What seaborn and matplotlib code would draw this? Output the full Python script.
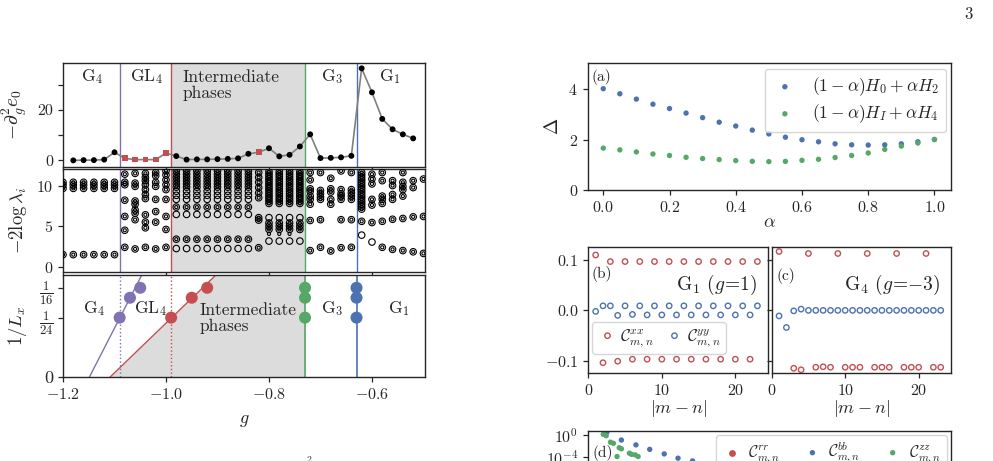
import numpy as np
import pandas as pd
import seaborn as sns
import matplotlib.pyplot as plt

# ---------------- data: left column ----------------
g_e0 = [-1.18, -1.16, -1.14, -1.12, -1.10, -1.08, -1.06, -1.04, -1.02, -1.00,
        -0.98, -0.96, -0.94, -0.92, -0.90, -0.88, -0.86, -0.84, -0.82, -0.80,
        -0.78, -0.76, -0.74, -0.72, -0.70, -0.68, -0.66, -0.64, -0.62, -0.60,
        -0.58, -0.56, -0.54, -0.52]
d2e0 = [0.0, 0.1, 0.1, 0.3, 3.2, 0.8, 0.3, 0.3, 0.3, 2.9,
        1.7, 0.3, 0.4, 0.4, 0.5, 0.6, 0.8, 2.6, 3.2, 4.8,
        1.6, 2.2, 5.5, 10.3, 0.9, 1.0, 1.2, 1.8, 36.4, 26.9,
        16.4, 12.3, 10.3, 8.7]
g_square = [-1.08, -1.06, -1.04, -1.02, -1.00, -0.82]

trans_g = [-1.09, -0.99, -0.73, -0.63]
phase_names = ['G$_4$', 'GL$_4$', 'Intermediate\nphases', 'G$_3$', 'G$_1$']

# entanglement spectrum levels (-2 log lambda_i) per g
g4_levels = [1.5, 9.65, 10.05, 10.4]
inter_ring = [3.4, 7.35, 9.8, 10.2, 10.6, 11.0, 11.4, 11.8]
inter_open = [2.25, 6.45, 8.3, 8.8, 9.3]
late_ring = [4.6, 5.0, 5.4, 7.8, 8.1, 8.4, 8.7, 9.0, 9.3, 9.6, 9.9, 10.2,
             10.5, 10.8, 11.1, 11.4, 11.7]
late_open = [3.17, 6.05]
es_ring = {
    -1.20: g4_levels, -1.18: g4_levels, -1.16: g4_levels,
    -1.14: g4_levels, -1.12: g4_levels, -1.10: g4_levels,
    -1.08: [2.4, 4.5, 6.2, 8.2, 10.1, 10.4, 11.4],
    -1.06: [2.2, 5.8, 6.6, 7.0, 7.7, 8.1, 9.9, 10.3, 11.5],
    -1.04: [2.4, 4.8, 5.5, 6.4, 8.4, 8.9, 9.5, 10.1, 10.6, 11.0, 11.5],
    -1.02: [2.2, 5.5, 6.8, 8.3, 9.9, 10.4, 11.2, 11.6],
    -1.00: [2.4, 4.6, 6.2, 8.3, 9.5, 10.1, 10.7, 11.3, 11.8],
    -0.98: inter_ring, -0.96: inter_ring, -0.94: inter_ring, -0.92: inter_ring,
    -0.90: inter_ring, -0.88: inter_ring, -0.86: inter_ring, -0.84: inter_ring,
    -0.82: [2.35, 5.75, 6.05, 8.5, 9.1, 9.75, 10.4, 11.0, 11.6],
    -0.80: late_ring, -0.78: late_ring, -0.76: late_ring, -0.74: late_ring,
    -0.72: [2.0, 5.7, 7.7, 8.3, 8.7, 9.3, 9.6, 10.7, 11.6],
    -0.70: [2.4, 5.8, 8.3, 8.6, 9.0, 9.4, 11.6],
    -0.68: [1.95, 7.7, 8.3, 9.2, 9.6, 10.9],
    -0.66: [2.35, 5.8, 8.3, 8.7, 9.0, 9.5, 11.8],
    -0.64: [2.4, 5.8, 8.3, 8.7, 9.1, 9.5, 11.6],
    -0.62: [5.6, 7.1, 7.4, 7.7, 8.0, 8.3, 8.6, 8.9, 9.2, 9.5, 9.8, 10.1,
            10.4, 10.7, 11.0, 11.3, 11.6],
    -0.60: [5.45, 7.6, 8.3, 10.2, 10.8, 11.4],
    -0.58: [2.4, 5.6, 7.8, 8.3, 8.7, 10.6, 11.6],
    -0.56: [2.15, 5.85, 8.3, 8.9, 10.0, 10.6],
    -0.54: [2.0, 5.95, 8.7, 9.5, 9.9, 10.4, 11.6],
    -0.52: [1.85, 6.15, 9.75, 10.6],
    -0.50: [1.65, 6.2, 10.8],
}
es_open = {
    -0.98: inter_open, -0.96: inter_open, -0.94: inter_open, -0.92: inter_open,
    -0.90: inter_open, -0.88: inter_open, -0.86: inter_open, -0.84: inter_open,
    -0.80: late_open, -0.78: late_open, -0.76: late_open, -0.74: late_open,
    -0.62: [3.9], -0.60: [3.05],
}
es_small = {-0.80: [4.05], -0.78: [4.05], -0.76: [4.05]}

# finite size crossings
inv_Lx = [1/24, 1/18, 1/16]
cross_purple = [-1.09, -1.07, -1.05]
cross_red = [-0.99, -0.95, -0.92]
cross_green = [-0.73, -0.73, -0.73]
cross_blue = [-0.63, -0.63, -0.63]
fit_y = [0.0, 1/14]
fit_purple = [-1.149, -1.047]
fit_red = [-1.109, -0.903]

# ---------------- data: right column ----------------
alpha = [0.0, 0.05, 0.1, 0.15, 0.2, 0.25, 0.3, 0.35, 0.4, 0.45, 0.5,
         0.55, 0.6, 0.65, 0.7, 0.75, 0.8, 0.85, 0.9, 0.95, 1.0]
gap_H02 = [4.00, 3.80, 3.59, 3.39, 3.22, 3.04, 2.86, 2.68, 2.53, 2.37, 2.22,
           2.09, 1.99, 1.91, 1.83, 1.79, 1.78, 1.79, 1.83, 1.91, 2.00]
gap_HI4 = [1.66, 1.59, 1.51, 1.43, 1.37, 1.30, 1.25, 1.21, 1.17, 1.14, 1.13,
           1.14, 1.18, 1.22, 1.29, 1.37, 1.47, 1.61, 1.74, 1.86, 2.00]

dist = list(range(1, 24))
cxx_g1 = [0.110, -0.104, 0.097, -0.101, 0.097, -0.097, 0.097, -0.097, 0.097,
          -0.097, 0.097, -0.097, 0.097, -0.097, 0.097, -0.097, 0.097, -0.097,
          0.097, -0.097, 0.097, -0.097, 0.097]
cyy_g1 = [-0.002, 0.009, 0.009, -0.010, 0.009, -0.008, 0.009, -0.009, 0.009,
          -0.009, 0.009, -0.009, 0.009, -0.009, 0.009, -0.009, 0.009, -0.009,
          0.009, -0.009, 0.009, -0.009, 0.009]
dist_xx_g4 = [1, 3, 4, 5, 6, 7, 8, 9, 10, 11, 12, 13, 14, 15, 16, 17, 18, 19,
              20, 21, 22, 23]
cxx_g4 = [0.117, -0.115, -0.118, 0.113, -0.113, -0.112, -0.113, 0.113, -0.113,
          -0.113, -0.113, 0.113, -0.113, -0.113, -0.113, 0.113, -0.113, -0.113,
          -0.113, 0.113, -0.113, -0.113]
cyy_g4 = [-0.011, -0.034, -0.001, 0.0025, 0.0, 0.0, 0.0, 0.0, 0.0, 0.0, 0.0,
          0.0, 0.0, 0.0, 0.0, 0.0, 0.0, 0.0, 0.0, 0.0, 0.0, 0.0, 0.0]

dist_bb = [2.6, 4.6, 6.6, 8.5, 10.5, 12.4, 14.4]
c_bb = [2.5, 1e-1, 1.3e-2, 2e-3, 3e-4, 5e-5, 1.6e-5]
dist_zz = [2.1, 2.5, 3.1, 3.5, 4.3, 4.6, 4.0, 5.7, 6.0, 6.5, 6.9]
c_zz = [1.1, 0.6, 4e-2, 2.5e-2, 4e-3, 2.5e-3, 1e-4, 4e-4, 2.5e-4, 2e-4, 1e-4]

# ---------------- style ----------------
sns.set_theme(style='ticks', palette='deep')
plt.rcParams.update({
    'font.family': 'serif',
    'font.serif': ['cmr10'],
    'mathtext.fontset': 'cm',
    'axes.formatter.use_mathtext': True,
    'font.size': 11.5,
    'axes.edgecolor': '#262626',
    'axes.linewidth': 1.0,
    'xtick.labelsize': 11.5,
    'ytick.labelsize': 11.5,
    'axes.labelsize': 13,
    'xtick.major.size': 3.5,
    'ytick.major.size': 3.5,
    'xtick.major.width': 0.9,
    'ytick.major.width': 0.9,
    'legend.fontsize': 11.5,
})
pal = sns.color_palette('deep')
c_blue, c_green, c_red, c_purple = pal[0], pal[2], pal[3], pal[4]
line_cols = [c_purple, c_red, c_green, c_blue]
shade = '#dcdcdc'

W, H = 993, 461
fig = plt.figure(figsize=(W / 100, H / 100), dpi=100)


def px_rect(l, t, r, b):
    return [l / W, 1 - b / H, (r - l) / W, (b - t) / H]


gmin, gmax = -1.2, -0.497

# ---------- top left: -d^2 e0 ----------
ax1 = fig.add_axes(px_rect(63, 63.3, 425, 166.7))
ax1.axvspan(trans_g[1], trans_g[2], color=shade, lw=0, zorder=0)
for gc, col in zip(trans_g, line_cols):
    ax1.axvline(gc, color=col, lw=1.0, zorder=1)
df_e0 = pd.DataFrame({'g': g_e0, 'v': d2e0})
df_e0['sq'] = df_e0['g'].isin(g_square)
sns.lineplot(data=df_e0, x='g', y='v', color='gray', lw=1.2, ax=ax1,
             estimator=None, zorder=2)
sns.scatterplot(data=df_e0[~df_e0.sq], x='g', y='v', color='black', s=18,
                edgecolor='none', ax=ax1, zorder=3)
sns.scatterplot(data=df_e0[df_e0.sq], x='g', y='v', color=c_red, marker='s',
                s=17, edgecolor='none', ax=ax1, zorder=3)
ax1.set_xlim(gmin, gmax)
ax1.set_ylim(-2.5, 38.4)
ax1.set_yticks([0, 10, 20, 30], ['0', '', '20', ''])
ax1.set_xticks([-1.2, -1.0, -0.8, -0.6], [])
ax1.set_xlabel('')
ax1.set_ylabel(r'$-\partial_g^2 e_0$', fontsize=14)
ax1.yaxis.set_label_coords(-0.095, 0.5)
for x, name in zip([-1.143, -1.037, -0.968, -0.678, -0.565], phase_names):
    if '\n' in name:
        ax1.text(x, 29.6, name, ha='left', va='center', fontsize=12.5,
                 linespacing=1.05)
    else:
        ax1.text(x, 33.3, name, ha='center', va='center', fontsize=12.5)

# ---------- middle left: entanglement spectrum ----------
ax2 = fig.add_axes(px_rect(63, 169.3, 425, 271.7))
ax2.axvspan(trans_g[1], trans_g[2], color=shade, lw=0, zorder=0)
for gc, col in zip(trans_g, line_cols):
    ax2.axvline(gc, color=col, lw=1.0, zorder=1)


def to_frame(d):
    rows = [(g, v) for g, vals in d.items() for v in vals]
    return pd.DataFrame(rows, columns=['g', 'lev'])


df_ring = to_frame(es_ring)
df_open = to_frame(es_open)
df_small = to_frame(es_small)
big = pd.concat([df_ring, df_open])
small = pd.concat([df_ring, df_small])
sns.scatterplot(data=big, x='g', y='lev', s=22, facecolor='none',
                edgecolor='black', linewidth=0.8, ax=ax2, zorder=3)
sns.scatterplot(data=small, x='g', y='lev', s=5, facecolor='none',
                edgecolor='black', linewidth=0.8, ax=ax2, zorder=3)
ax2.set_xlim(gmin, gmax)
ax2.set_ylim(-0.6, 12.0)
ax2.set_yticks([0, 5, 10])
ax2.set_xticks([-1.2, -1.0, -0.8, -0.6], [])
ax2.set_xlabel('')
ax2.set_ylabel(r'$-2\log\lambda_i$', fontsize=13.5)
ax2.yaxis.set_label_coords(-0.095, 0.5)

# ---------- bottom left: 1/Lx crossings ----------
ax3 = fig.add_axes(px_rect(63, 275, 425, 377.3))
ax3.fill_betweenx(fit_y, fit_red, [trans_g[2], trans_g[2]], color=shade,
                  lw=0, zorder=0)
ax3.axvline(trans_g[0], color=c_purple, lw=1.0, ls=':', zorder=1)
ax3.axvline(trans_g[1], color=c_red, lw=1.0, ls=':', zorder=1)
ax3.axvline(trans_g[2], color=c_green, lw=1.2, zorder=1)
ax3.axvline(trans_g[3], color=c_blue, lw=1.2, zorder=1)
sns.lineplot(x=fit_purple, y=fit_y, color=c_purple, lw=1.0, estimator=None,
             ax=ax3, zorder=2)
sns.lineplot(x=fit_red, y=fit_y, color=c_red, lw=1.0, estimator=None,
             ax=ax3, zorder=2)
for xs, col in zip([cross_purple, cross_red, cross_green, cross_blue],
                   line_cols):
    sns.scatterplot(x=xs, y=inv_Lx, color=col, s=75, edgecolor='none',
                    ax=ax3, zorder=3)
ax3.set_xlim(gmin, gmax)
ax3.set_ylim(0, 1/14)
ax3.set_yticks([0, 1/24, 1/16], ['0', r'$\frac{1}{24}$', r'$\frac{1}{16}$'])
ax3.tick_params(axis='y', labelsize=13)
ax3.set_xticks([-1.2, -1.0, -0.8, -0.6])
ax3.set_xlabel(r'$g$', labelpad=8)
ax3.set_ylabel(r'$1/L_x$', fontsize=13.5)
ax3.yaxis.set_label_coords(-0.095, 0.5)
for x, name in zip([-1.139, -1.031, -0.934, -0.678, -0.548], phase_names):
    if '\n' in name:
        ax3.text(x, 0.0415, name, ha='left', va='center', fontsize=12.5,
                 linespacing=1.05)
    else:
        ax3.text(x, 0.0478, name, ha='center', va='center', fontsize=12.5)

# ---------- (a) gaps ----------
axa = fig.add_axes(px_rect(587.7, 63.3, 951, 190.3))
sns.scatterplot(x=alpha, y=gap_H02, color=c_blue, s=15, edgecolor='none',
                label=r'$(1-\alpha)H_0+\alpha H_2$', ax=axa)
sns.scatterplot(x=alpha, y=gap_HI4, color=c_green, s=15, edgecolor='none',
                label=r'$(1-\alpha)H_I+\alpha H_4$', ax=axa)
axa.set_xlim(-0.047, 1.05)
axa.set_ylim(0, 5)
axa.set_yticks([0, 2, 4])
axa.set_xticks([0, 0.2, 0.4, 0.6, 0.8, 1.0])
axa.set_xlabel(r'$\alpha$', labelpad=0)
axa.set_ylabel(r'$\Delta$', fontsize=14)
axa.yaxis.set_label_coords(-0.07, 0.5)
axa.legend(loc='upper right', handletextpad=0.8, borderaxespad=0.3,
           handlelength=1.5, fontsize=12.5, labelspacing=0.25)
axa.text(0.011, 0.955, '(a)', transform=axa.transAxes, ha='left', va='top',
         fontsize=11)

# ---------- (b), (c) correlations ----------
axb = fig.add_axes(px_rect(588.3, 246.7, 767.7, 373.3))
axc = fig.add_axes(px_rect(771.7, 246.7, 951, 373.3))
sns.scatterplot(x=dist, y=cxx_g1, s=15, facecolor='none', edgecolor=c_red,
                linewidth=1.0, label=r'$\mathcal{C}^{xx}_{m,n}$', ax=axb)
sns.scatterplot(x=dist, y=cyy_g1, s=15, facecolor='none', edgecolor=c_blue,
                linewidth=1.0, label=r'$\mathcal{C}^{yy}_{m,n}$', ax=axb)
sns.scatterplot(x=dist_xx_g4, y=cxx_g4, s=15, facecolor='none',
                edgecolor=c_red, linewidth=1.0, ax=axc)
sns.scatterplot(x=dist, y=cyy_g4, s=15, facecolor='none', edgecolor=c_blue,
                linewidth=1.0, ax=axc)
for ax in (axb, axc):
    ax.set_xlim(0, 24.4)
    ax.set_ylim(-0.125, 0.1265)
    ax.set_yticks([-0.1, 0.0, 0.1])
    ax.set_xticks([0, 10, 20])
    ax.set_xlabel(r'$|m-n|$', labelpad=0)
    ax.set_ylabel('')
axc.set_yticklabels([])
axb.legend(loc='lower left', bbox_to_anchor=(0.0, 0.13), ncol=2,
           columnspacing=0.6, handletextpad=0.1, handlelength=1.3,
           borderaxespad=0.2, borderpad=0.3, fontsize=12)
axb.text(0.02, 0.845, '(b)', transform=axb.transAxes, ha='left', va='top',
         fontsize=11)
axc.text(0.028, 0.835, '(c)', transform=axc.transAxes, ha='left', va='top',
         fontsize=11)
axb.text(0.94, 0.70, r'G$_1$ $(g\!=\!1)$', transform=axb.transAxes,
         ha='right', va='center', fontsize=14)
axc.text(0.94, 0.70, r'G$_4$ $(g\!=\!{-3})$', transform=axc.transAxes,
         ha='right', va='center', fontsize=14)

# ---------- (d) cut off at the bottom ----------
axd = fig.add_axes(px_rect(588, 430.5, 951, 530.5))
axd.set_yscale('log')
axd.scatter([], [], color=c_red, s=15, label=r'$\mathcal{C}^{rr}_{m,n}$')
sns.scatterplot(x=dist_bb, y=c_bb, color=c_blue, s=15, edgecolor='none',
                label=r'$\mathcal{C}^{bb}_{m,n}$', ax=axd)
sns.scatterplot(x=dist_zz, y=c_zz, color=c_green, s=15, edgecolor='none',
                label=r'$\mathcal{C}^{zz}_{m,n}$', ax=axd)
axd.set_xlim(0, 50)
axd.set_ylim(10 ** -17.45, 10 ** 0.73)
axd.set_yticks([1e0, 1e-4, 1e-8, 1e-12, 1e-16])
axd.minorticks_off()
axd.set_xticks([])
axd.legend(loc='upper right', bbox_to_anchor=(0.99, 0.955), ncol=3,
           handletextpad=0.4, handlelength=1.2, columnspacing=1.4,
           borderaxespad=0.0, fontsize=11.5)
axd.text(0.012, 0.78, '(d)', transform=axd.transAxes, ha='left', va='center',
         fontsize=11)

fig.text(968 / W, 1 - 14 / H, '3', ha='center', va='center', fontsize=12)
fig.text(306 / W, 1 - 456 / H, '2', ha='left', va='top', fontsize=7)

fig.savefig('out.png', dpi=100)
